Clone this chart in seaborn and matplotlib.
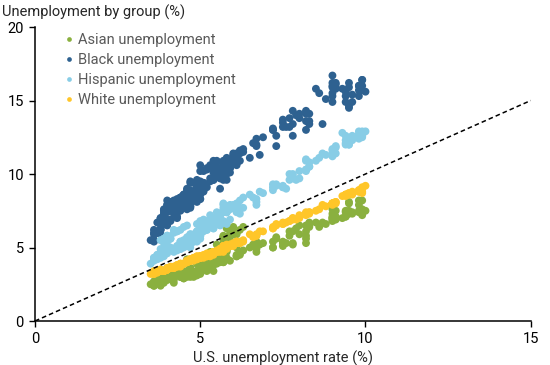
import numpy as np
import pandas as pd
import matplotlib
matplotlib.use("Agg")
import matplotlib.pyplot as plt
import seaborn as sns

# U.S. unemployment rate (%), monthly 2000-2019
us_rate = [
    4.0, 4.1, 4.0, 3.8, 4.0, 4.0, 4.0, 4.1, 3.9, 3.9, 3.9, 3.9,
    4.2, 4.2, 4.3, 4.4, 4.3, 4.5, 4.6, 4.9, 5.0, 5.3, 5.5, 5.7,
    5.7, 5.7, 5.7, 5.9, 5.8, 5.8, 5.8, 5.7, 5.7, 5.7, 5.9, 6.0,
    5.8, 5.9, 5.9, 6.0, 6.1, 6.3, 6.2, 6.1, 6.1, 6.0, 5.8, 5.7,
    5.7, 5.6, 5.8, 5.6, 5.6, 5.6, 5.5, 5.4, 5.4, 5.5, 5.4, 5.4,
    5.3, 5.4, 5.2, 5.2, 5.1, 5.0, 5.0, 4.9, 5.0, 5.0, 5.0, 4.9,
    4.7, 4.8, 4.7, 4.7, 4.6, 4.6, 4.7, 4.7, 4.5, 4.4, 4.5, 4.4,
    4.6, 4.5, 4.4, 4.5, 4.4, 4.6, 4.7, 4.6, 4.7, 4.7, 4.7, 5.0,
    5.0, 4.9, 5.1, 5.0, 5.4, 5.6, 5.8, 6.1, 6.1, 6.5, 6.8, 7.3,
    7.8, 8.3, 8.7, 9.0, 9.4, 9.5, 9.5, 9.6, 9.8, 10.0, 9.9, 9.9,
    9.8, 9.8, 9.9, 9.9, 9.6, 9.4, 9.4, 9.5, 9.5, 9.4, 9.8, 9.3,
    9.1, 9.0, 9.0, 9.1, 9.0, 9.1, 9.0, 9.0, 9.0, 8.8, 8.6, 8.5,
    8.3, 8.3, 8.2, 8.2, 8.2, 8.2, 8.2, 8.0, 7.8, 7.8, 7.7, 7.9,
    8.0, 7.7, 7.5, 7.6, 7.5, 7.5, 7.3, 7.2, 7.2, 7.2, 6.9, 6.7,
    6.6, 6.7, 6.7, 6.2, 6.3, 6.1, 6.2, 6.1, 5.9, 5.7, 5.8, 5.6,
    5.7, 5.5, 5.4, 5.4, 5.6, 5.3, 5.2, 5.1, 5.0, 5.0, 5.1, 5.0,
    4.8, 4.9, 5.0, 5.1, 4.8, 4.9, 4.8, 4.9, 5.0, 4.9, 4.7, 4.7,
    4.7, 4.6, 4.4, 4.4, 4.4, 4.3, 4.3, 4.4, 4.3, 4.2, 4.2, 4.1,
    4.0, 4.1, 4.0, 4.0, 3.8, 4.0, 3.8, 3.8, 3.7, 3.8, 3.8, 3.9,
    4.0, 3.8, 3.8, 3.7, 3.6, 3.6, 3.7, 3.6, 3.5, 3.6, 3.6, 3.6,
]

asian = [
    3.4, 3.2, 3.0, 2.9, 3.3, 3.6, 3.2, 3.3, 3.1, 3.0, 2.6, 3.0,
    3.2, 3.4, 3.3, 3.6, 3.5, 3.9, 4.2, 4.0, 4.3, 4.7, 5.2, 5.1,
    5.5, 5.6, 5.7, 5.9, 5.6, 5.4, 5.0, 5.8, 5.7, 5.3, 5.5, 6.1,
    6.3, 5.8, 5.9, 6.4, 5.9, 6.4, 6.2, 6.0, 5.4, 5.9, 4.8, 5.0,
    4.9, 4.5, 4.7, 4.4, 4.6, 4.7, 4.5, 4.3, 4.6, 4.2, 4.4, 4.3,
    4.1, 4.3, 4.0, 3.9, 3.8, 3.7, 4.0, 3.9, 3.5, 3.8, 3.3, 3.4,
    3.2, 3.0, 3.3, 3.1, 3.0, 3.2, 3.6, 3.0, 2.9, 3.1, 3.3, 3.0,
    3.1, 3.2, 3.0, 2.9, 3.2, 3.4, 3.5, 3.3, 3.6, 3.2, 3.4, 3.6,
    3.5, 3.4, 3.8, 3.6, 4.1, 4.0, 4.3, 4.4, 4.4, 5.0, 5.2, 5.6,
    6.1, 6.4, 6.7, 6.9, 7.1, 8.0, 8.1, 7.3, 7.4, 7.5, 7.3, 8.2,
    8.2, 7.9, 7.6, 7.2, 7.4, 7.4, 7.5, 7.3, 7.5, 7.1, 7.5, 7.0,
    7.1, 7.0, 6.8, 6.9, 7.1, 7.5, 7.6, 7.3, 7.0, 6.6, 6.4, 6.7,
    6.7, 6.5, 5.8, 5.6, 5.3, 6.1, 6.5, 5.9, 5.2, 5.3, 5.8, 6.3,
    6.5, 6.1, 5.3, 5.3, 5.1, 5.4, 5.7, 5.0, 5.4, 5.0, 5.3, 4.7,
    5.2, 5.4, 4.9, 4.5, 4.8, 5.0, 4.6, 4.5, 4.1, 4.0, 4.9, 4.2,
    4.0, 3.9, 3.4, 3.8, 4.2, 3.8, 3.4, 3.9, 3.9, 3.7, 3.6, 3.6,
    3.2, 3.9, 3.8, 3.9, 3.3, 3.1, 3.3, 3.3, 3.2, 3.4, 3.5, 3.3,
    3.3, 3.3, 3.3, 3.1, 3.6, 3.7, 3.5, 3.7, 3.1, 2.8, 2.6, 3.0,
    2.9, 3.1, 2.8, 2.8, 2.4, 3.1, 2.9, 2.7, 3.0, 3.1, 3.0, 3.3,
    3.1, 3.1, 3.2, 2.8, 2.6, 2.7, 2.8, 2.6, 2.5, 2.6, 2.4, 2.4,
]

black = [
    8.2, 8.1, 7.4, 7.0, 7.7, 7.9, 7.9, 7.6, 7.3, 7.3, 7.5, 7.6,
    8.2, 7.7, 8.3, 8.0, 7.9, 8.3, 8.1, 9.1, 8.7, 9.7, 9.9, 10.1,
    9.8, 9.6, 10.6, 10.1, 10.4, 10.7, 10.0, 9.9, 9.9, 9.8, 10.7, 11.4,
    10.5, 10.4, 10.4, 10.9, 10.8, 11.7, 10.9, 10.9, 11.0, 11.3, 10.3, 10.3,
    10.4, 9.7, 10.2, 9.8, 10.1, 10.1, 10.9, 10.4, 10.2, 10.8, 10.7, 10.7,
    10.6, 10.9, 10.4, 10.3, 10.2, 10.2, 9.5, 9.6, 9.4, 9.1, 10.6, 9.2,
    8.9, 9.4, 9.4, 8.6, 8.9, 9.0, 9.5, 8.8, 8.6, 8.4, 8.6, 8.4,
    7.9, 8.2, 8.2, 8.3, 8.4, 8.5, 7.8, 7.6, 8.0, 8.5, 8.5, 9.0,
    9.1, 8.3, 8.9, 8.6, 9.6, 9.0, 9.6, 10.6, 11.1, 11.1, 11.3, 11.9,
    12.6, 13.4, 13.4, 14.9, 14.9, 14.6, 14.5, 14.9, 15.3, 15.6, 15.7, 16.0,
    16.0, 15.7, 16.4, 16.4, 15.4, 15.3, 15.6, 16.2, 15.9, 15.7, 16.0, 15.8,
    15.8, 15.3, 15.5, 16.1, 16.2, 16.2, 15.9, 16.7, 16.0, 15.1, 15.5, 15.8,
    13.6, 14.1, 14.1, 13.0, 13.6, 14.3, 14.2, 14.1, 13.4, 14.3, 13.2, 14.0,
    13.8, 13.8, 13.2, 13.2, 13.5, 13.7, 12.6, 13.0, 13.0, 13.1, 12.5, 11.9,
    12.1, 12.0, 12.4, 11.6, 11.5, 10.7, 11.4, 11.4, 11.0, 10.9, 11.1, 10.4,
    10.3, 10.4, 10.1, 9.6, 10.2, 9.5, 9.1, 9.4, 9.2, 9.2, 9.4, 8.3,
    8.8, 8.8, 9.0, 8.8, 8.2, 8.6, 8.4, 8.1, 8.3, 8.6, 8.0, 7.8,
    7.7, 8.1, 8.0, 7.9, 7.5, 7.1, 7.4, 7.7, 7.0, 7.5, 7.3, 6.8,
    7.7, 6.9, 6.9, 6.6, 5.9, 6.5, 6.6, 6.3, 6.0, 6.2, 6.2, 6.6,
    6.8, 7.0, 6.7, 6.7, 6.2, 6.0, 6.0, 5.5, 5.5, 5.4, 5.5, 5.9,
]

hispanic = [
    5.8, 5.6, 5.6, 5.5, 5.8, 5.4, 5.8, 5.6, 5.6, 5.3, 5.5, 5.6,
    6.0, 6.2, 6.1, 6.2, 6.1, 6.4, 6.5, 6.6, 6.7, 7.2, 7.4, 7.9,
    8.0, 7.4, 7.7, 7.9, 7.4, 7.4, 7.5, 7.5, 7.4, 7.4, 7.8, 7.9,
    7.8, 7.7, 7.6, 7.7, 8.0, 8.4, 8.2, 7.9, 7.5, 7.7, 7.6, 7.5,
    7.4, 7.0, 7.4, 7.3, 7.0, 7.0, 6.8, 6.4, 6.7, 6.8, 7.0, 6.3,
    6.5, 6.3, 6.2, 6.2, 6.5, 5.8, 5.8, 6.0, 6.0, 5.8, 5.9, 6.1,
    5.8, 5.4, 5.3, 5.3, 5.1, 5.2, 5.2, 5.0, 5.0, 4.9, 5.2, 4.9,
    5.6, 5.3, 5.4, 5.5, 5.4, 5.7, 5.6, 5.5, 5.7, 5.6, 5.7, 6.2,
    6.3, 6.1, 6.9, 6.8, 7.0, 7.3, 7.5, 7.9, 7.9, 8.6, 8.8, 9.2,
    9.7, 10.8, 11.4, 11.3, 12.0, 12.0, 12.3, 12.6, 12.7, 12.9, 12.6, 12.9,
    12.6, 12.4, 12.6, 12.5, 12.3, 12.3, 12.1, 12.0, 12.4, 12.6, 12.9, 12.8,
    11.9, 11.6, 11.3, 11.8, 11.7, 11.4, 11.2, 11.3, 11.3, 11.3, 11.1, 10.9,
    10.5, 10.5, 10.3, 10.3, 10.9, 11.0, 10.2, 10.2, 9.9, 10.0, 10.0, 9.6,
    9.7, 9.6, 9.2, 9.0, 9.1, 9.1, 9.3, 9.3, 8.9, 9.1, 8.7, 8.3,
    8.4, 8.1, 7.9, 7.3, 7.7, 7.8, 7.7, 7.4, 6.9, 6.8, 6.6, 6.5,
    6.7, 6.6, 6.8, 6.9, 6.6, 6.5, 6.8, 6.6, 6.4, 6.3, 6.4, 6.3,
    5.9, 5.4, 5.6, 6.1, 5.6, 5.8, 5.4, 5.8, 6.4, 5.6, 5.7, 5.9,
    5.9, 5.6, 5.1, 5.2, 5.2, 4.8, 5.1, 5.1, 5.1, 4.8, 4.7, 4.9,
    4.9, 5.0, 5.1, 4.8, 4.9, 4.6, 4.5, 4.7, 4.5, 4.4, 4.5, 4.4,
    4.9, 4.3, 4.6, 4.2, 4.2, 4.3, 4.5, 4.2, 3.9, 4.1, 4.2, 4.3,
]

white = [
    3.5, 3.6, 3.5, 3.4, 3.5, 3.5, 3.5, 3.6, 3.4, 3.4, 3.4, 3.4,
    3.7, 3.7, 3.8, 3.8, 3.8, 3.9, 4.1, 4.3, 4.3, 4.6, 4.8, 5.0,
    5.1, 5.0, 5.1, 5.1, 5.1, 5.1, 5.2, 5.1, 5.0, 5.1, 5.1, 5.1,
    5.1, 5.2, 5.2, 5.2, 5.4, 5.5, 5.4, 5.3, 5.3, 5.3, 5.1, 5.0,
    5.0, 4.9, 5.1, 4.9, 4.9, 4.8, 4.7, 4.6, 4.7, 4.7, 4.6, 4.5,
    4.4, 4.6, 4.4, 4.4, 4.4, 4.3, 4.3, 4.2, 4.3, 4.3, 4.4, 4.2,
    4.1, 4.1, 4.1, 4.1, 4.0, 4.0, 4.1, 4.1, 3.9, 3.9, 3.9, 3.9,
    4.0, 3.9, 3.8, 3.9, 3.8, 4.0, 4.1, 4.1, 4.2, 4.1, 4.1, 4.3,
    4.4, 4.4, 4.5, 4.4, 4.7, 4.9, 5.1, 5.4, 5.4, 5.9, 6.1, 6.5,
    7.0, 7.4, 7.9, 8.0, 8.6, 8.6, 8.6, 8.8, 8.9, 9.2, 9.1, 9.0,
    8.8, 8.8, 8.8, 8.7, 8.6, 8.5, 8.6, 8.7, 8.7, 8.6, 8.9, 8.5,
    8.0, 8.0, 7.9, 8.1, 8.0, 8.1, 8.0, 8.0, 8.0, 7.8, 7.6, 7.5,
    7.4, 7.3, 7.2, 7.3, 7.3, 7.3, 7.4, 7.2, 7.0, 6.9, 6.8, 6.9,
    7.0, 6.8, 6.7, 6.7, 6.6, 6.6, 6.6, 6.4, 6.3, 6.3, 6.1, 5.9,
    5.7, 5.8, 5.8, 5.3, 5.4, 5.3, 5.3, 5.3, 5.1, 4.8, 4.9, 4.8,
    4.7, 4.7, 4.7, 4.7, 4.7, 4.6, 4.6, 4.4, 4.4, 4.4, 4.3, 4.4,
    4.3, 4.3, 4.4, 4.4, 4.2, 4.3, 4.3, 4.4, 4.4, 4.3, 4.2, 4.2,
    4.2, 4.1, 3.9, 3.8, 3.7, 3.8, 3.7, 3.8, 3.7, 3.6, 3.6, 3.7,
    3.5, 3.6, 3.6, 3.6, 3.5, 3.5, 3.4, 3.4, 3.4, 3.5, 3.4, 3.4,
    3.5, 3.4, 3.4, 3.3, 3.3, 3.3, 3.3, 3.4, 3.2, 3.2, 3.3, 3.2,
]

groups = ["Asian unemployment", "Black unemployment",
          "Hispanic unemployment", "White unemployment"]
colors = ["#8AB03F", "#2E6190", "#88CDE6", "#FFC629"]
x_ticks = [0, 5, 10, 15]
y_ticks = [0, 5, 10, 15, 20]

frames = []
for name, vals in zip(groups, [asian, black, hispanic, white]):
    frames.append(pd.DataFrame({"us": us_rate, "rate": vals, "group": name}))
df = pd.concat(frames, ignore_index=True)

sns.set_style("ticks")
plt.rcParams["font.family"] = ["Roboto", "DejaVu Sans"]

fig = plt.figure(figsize=(5.5, 3.65), dpi=100)
ax = fig.add_axes([0.0636, 0.1205, 0.9014, 0.8055])

sns.scatterplot(data=df, x="us", y="rate", hue="group", hue_order=groups,
                palette=colors, s=32, linewidth=0, alpha=1, ax=ax, zorder=2)

ax.plot([0, 15], [0, 15], color="black", linestyle=(0, (3, 2)),
        linewidth=1.1, zorder=3)

ax.set_xlim(0, 15)
ax.set_ylim(0, 20)
ax.set_xticks(x_ticks)
ax.set_yticks(y_ticks)
ax.tick_params(axis="both", direction="out", length=4, width=1,
               labelsize=10.5, colors="black", pad=4)
for s in ["top", "right"]:
    ax.spines[s].set_visible(False)
for s in ["left", "bottom"]:
    ax.spines[s].set_linewidth(1.1)
    ax.spines[s].set_color("black")

ax.set_xlabel("U.S. unemployment rate (%)", fontsize=10.5, labelpad=3)
ax.set_ylabel("")
fig.text(0.004, 0.967, "Unemployment by group (%)", fontsize=10.5,
         ha="left", va="center")

handles, labels = ax.get_legend_handles_labels()
leg = ax.legend(handles, labels, loc="upper left", bbox_to_anchor=(0.04, 1.0),
                frameon=False, fontsize=10.5, labelcolor="#595959",
                handletextpad=0.0, handlelength=1.2, labelspacing=0.42,
                markerscale=0.6, borderaxespad=0.0)

fig.savefig("out.png", dpi=100)
